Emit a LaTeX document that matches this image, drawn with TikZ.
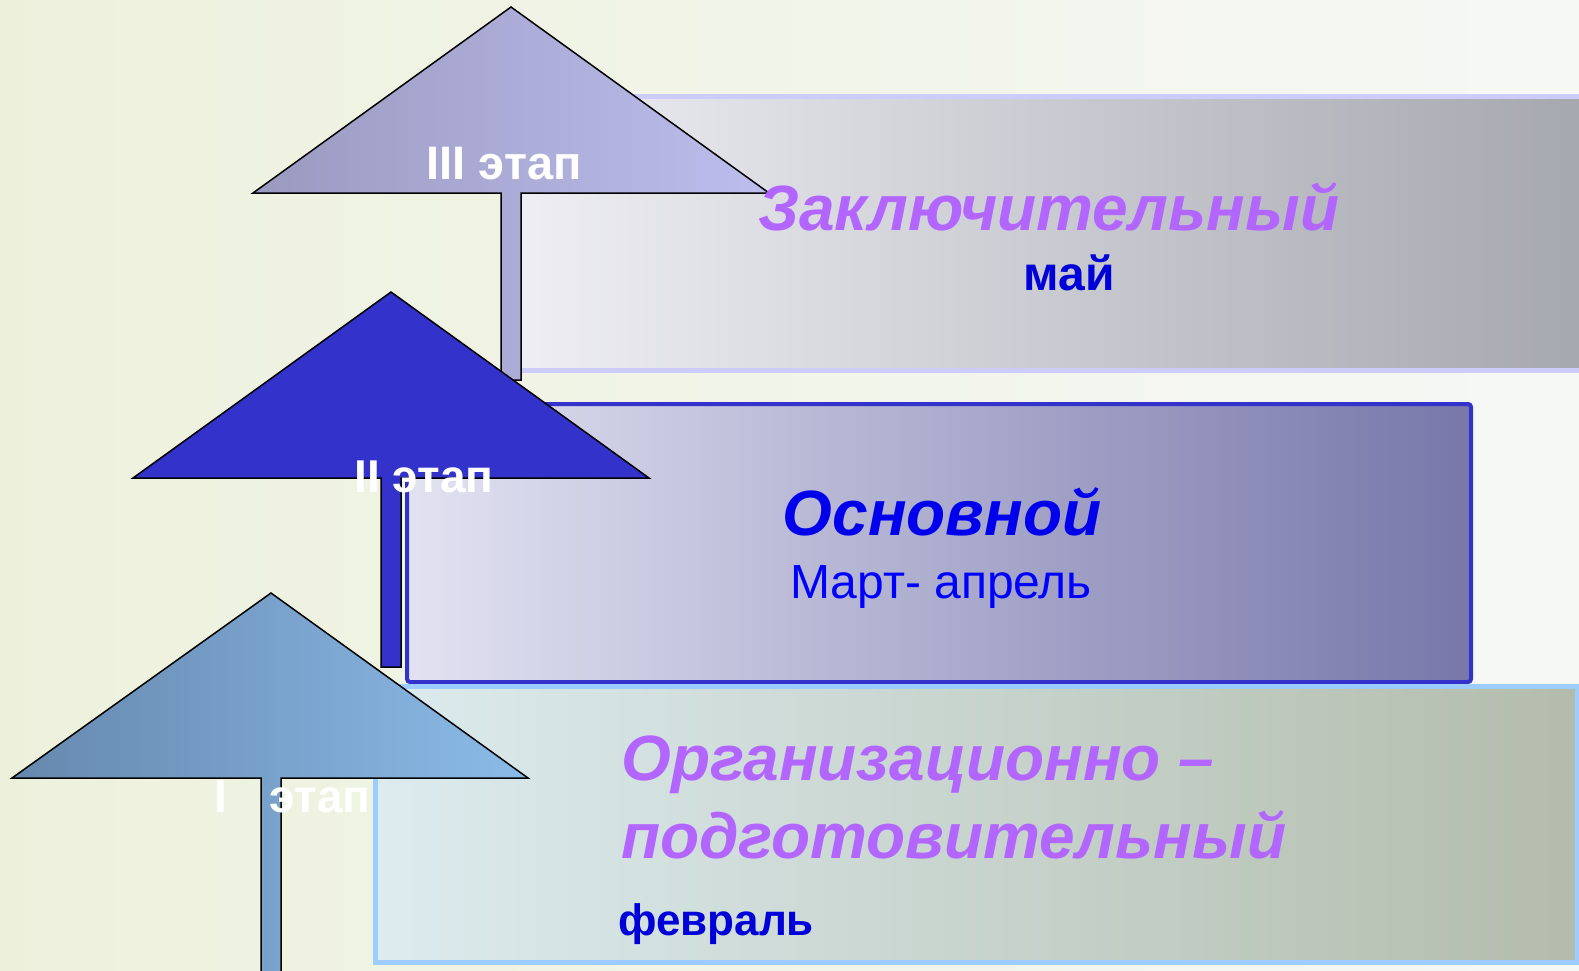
\documentclass[tikz,border=0pt]{standalone}
\usepackage{fontspec}
\setmainfont{Liberation Sans}
\usetikzlibrary{positioning}

\definecolor{bgleft}{HTML}{EDF1DC}
\definecolor{bgright}{HTML}{F6F8F6}
\definecolor{violetTxt}{HTML}{B266FF}
\definecolor{blueTxt}{HTML}{0000D8}
\definecolor{stageTwo}{HTML}{3333CC}
\definecolor{recThreeL}{HTML}{EEEEF4}
\definecolor{recThreeR}{HTML}{A5A7AE}
\definecolor{recTwoL}{HTML}{E2E2F2}
\definecolor{recTwoR}{HTML}{7777AA}
\definecolor{recOneL}{HTML}{DCEBEE}
\definecolor{recOneR}{HTML}{B3BCAC}
\definecolor{recOneBorder}{HTML}{9DCCFF}
\definecolor{triThreeL}{HTML}{9A9AC0}
\definecolor{triThreeR}{HTML}{BDBDEE}
\definecolor{triOneL}{HTML}{6688AE}
\definecolor{triOneR}{HTML}{8BBBE8}

\begin{document}
\begin{tikzpicture}[
		x=1pt, y=-1pt,
		every node/.style={inner sep=0pt, font=\bfseries},
		stagelbl/.style={text=white, font=\fontsize{46}{52}\selectfont\bfseries},
		title/.style={text=violetTxt, font=\fontsize{64}{76}\selectfont\bfseries\itshape, align=left},
		month/.style={text=blueTxt, font=\fontsize{44}{50}\selectfont\bfseries},
		arrowshape/.style={draw=black, line width=1.5pt, line join=miter}
	]

	\useasboundingbox (0,0) rectangle (1579,971);
	\clip (0,0) rectangle (1579,971);

	% background
	\shade[left color=bgleft, right color=bgright] (0,0) rectangle (1579,971);

	% stage III
	\shade[left color=recThreeL, right color=recThreeR] (515,97) rectangle (1600,370);
	\draw[color=blue!20, line width=5pt] (515,97) -- (1600,97) (515,370) -- (1600,370);
	\shade[arrowshape, shading angle=45, left color=triThreeL, right color=triThreeR]
		(511,7) -- (769,193) -- (521,193) -- (521,380) -- (501,380) -- (501,193) -- (253,193) -- cycle;

	% stage II
	\shade[draw=stageTwo, line width=4pt, rounded corners=3pt, left color=recTwoL, right color=recTwoR]
		(407,404) rectangle (1471,682);
	\fill[arrowshape, fill=stageTwo]
		(391,292) -- (649,478) -- (401,478) -- (401,667) -- (381,667) -- (381,478) -- (133,478) -- cycle;

	% stage I
	\shade[draw=recOneBorder, line width=5pt, left color=recOneL, right color=recOneR]
		(375,686) rectangle (1577,962);
	\shade[arrowshape, shading angle=45, left color=triOneL, right color=triOneR]
		(271,593) -- (528,778) -- (281,778) -- (281,980) -- (261,980) -- (261,778) -- (12,778) -- cycle;

	% stage labels
	\node[stagelbl, font=\fontsize{47}{52}\selectfont\bfseries] (lblIII) at (504,164) {III этап};
	\node[stagelbl] (lblII) at (424,477) {II этап};
	\node[stagelbl, anchor=west] (lblI) at (214,797) {I\hspace{43pt}этап};

	% texts
	\node[title, anchor=base west] (tZak) at (758,230) {Заключительный};
	\node[month, font=\fontsize{48}{54}\selectfont\bfseries, anchor=base] (tMay) at (1069,290) {май};
	\node[title, text=blue!93!black, anchor=base] (tOsn) at (942,535) {Основной};
	\node[month, font=\fontsize{48}{54}\selectfont, text=blue, anchor=base] (tMart) at (941,598) {Март- апрель};
	\node[title, anchor=base west] (tOrg) at (621,780) {Организационно –};
	\node[title, anchor=base west] (tPodg) at (621,858) {подготовительный};
	\node[month, anchor=base west] (tFev) at (618,935) {февраль};

\end{tikzpicture}
\end{document}
